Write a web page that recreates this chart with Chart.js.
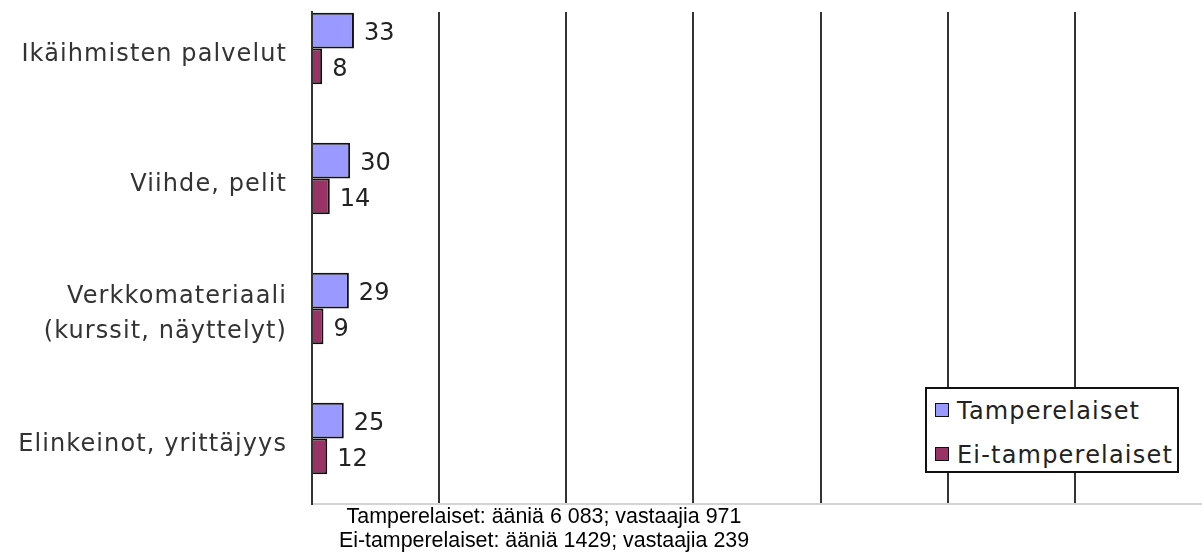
<!DOCTYPE html>
<html>
<head>
<meta charset="utf-8">
<script src="https://cdn.jsdelivr.net/npm/chart.js@4/dist/chart.umd.min.js"></script>
<style>
  html, body { margin: 0; padding: 0; background: #fff; }
  #wrap { position: relative; width: 1202px; height: 560px; }
  #legend {
    position: absolute; left: 925px; top: 387px; width: 250px; height: 82px;
    border: 2px solid #111; background: #fff;
    font-family: 'DejaVu Sans', sans-serif; font-size: 24px; color: #222; letter-spacing: 1.2px;
  }
  #legend .row { height: 44px; line-height: 44px; white-space: nowrap; padding-left: 8px; }
  #legend .box { display: inline-block; width: 12px; height: 12px; border: 1px solid #111;
    vertical-align: middle; margin-right: 8px; position: relative; top: -2px; }
  #footer {
    position: absolute; left: 0; top: 504px; width: 1088px; text-align: center;
    font-family: 'Liberation Sans', Arial, sans-serif; font-size: 21.4px; line-height: 24px; color: #000;
  }
</style>
</head>
<body>
<div id="wrap">
  <canvas id="chart"></canvas>
  <div id="legend"></div>
  <div id="footer">Tamperelaiset: ääniä 6 083; vastaajia 971<br>Ei-tamperelaiset: ääniä 1429; vastaajia 239</div>
</div>
<script>
const categories = [
    'Ikäihmisten palvelut',
    'Viihde, pelit',
    ['Verkkomateriaali', '(kurssit, näyttelyt)'],
    'Elinkeinot, yrittäjyys'
];
const seriesNames = ['Tamperelaiset', 'Ei-tamperelaiset'];
const tampere = [33, 30, 29, 25];
const muut = [8, 14, 9, 12];
const seriesColors = ['#9999ff', '#993366'];

const toPoints = arr => arr.map((v, i) => ({ x: v, y: i }));

// a little extra letter spacing, like the original's Verdana
const spacing = {
    id: 'spacing',
    beforeUpdate(chart) { chart.ctx.letterSpacing = '1.1px'; },
    beforeDraw(chart) { chart.ctx.letterSpacing = '1.1px'; }
};

// value labels at the end of each bar
const valueLabels = {
    id: 'valueLabels',
    afterDatasetsDraw(chart) {
        const ctx = chart.ctx;
        ctx.save();
        ctx.letterSpacing = '0px';
        ctx.font = '24px "DejaVu Sans"';
        ctx.fillStyle = '#222';
        ctx.textBaseline = 'middle';
        chart.data.datasets.forEach((ds, i) => {
            chart.getDatasetMeta(i).data.forEach((bar, j) => {
                ctx.fillText(ds.data[j].x, bar.x + 10, bar.y + 3);
            });
        });
        ctx.restore();
    }
};

const ctx = document.getElementById('chart').getContext('2d');
const chart = new Chart(ctx, {
    type: 'bar',
    data: {
        datasets: [
            { label: seriesNames[0], data: toPoints(tampere), backgroundColor: seriesColors[0],
              borderColor: '#111', borderWidth: 2 },
            { label: seriesNames[1], data: toPoints(muut), backgroundColor: seriesColors[1],
              borderColor: '#111', borderWidth: 2 }
        ]
    },
    options: {
        indexAxis: 'y',
        responsive: true,
        maintainAspectRatio: false,
        animation: false,
        categoryPercentage: 0.55,
        barPercentage: 1,
        layout: { padding: { top: 12, bottom: 56, left: 0, right: 0 } },
        plugins: {
            legend: { display: false },
            tooltip: { enabled: false }
        },
        scales: {
            x: {
                min: 0, max: 700,
                ticks: { display: false, stepSize: 100 },
                grid: {
                    drawTicks: false,
                    lineWidth: 2,
                    color: c => (c.tick && c.tick.value === 700) ? 'rgba(0,0,0,0)' : '#333'
                },
                border: { color: '#d4d4d4', width: 2 },
                afterFit: s => { s.height = 0; s.paddingLeft = 0; s.paddingRight = 0; }
            },
            y: {
                type: 'linear',
                reverse: true,
                offset: false,
                min: -0.281, max: 3.504,
                afterBuildTicks: s => { s.ticks = categories.map((_, i) => ({ value: i })); },
                ticks: {
                    callback: v => categories[v],
                    padding: 25,
                    labelOffset: 6,
                    color: '#333',
                    font: { family: 'DejaVu Sans', size: 24, lineHeight: 1.45 }
                },
                grid: { display: false, drawTicks: false, offset: false },
                border: { color: '#333', width: 2 },
                afterFit: s => { s.width = 312; s.paddingTop = 0; s.paddingBottom = 0; }
            }
        }
    },
    plugins: [spacing, valueLabels]
});

// legend box drawn from the datasets
const legendDiv = document.getElementById('legend');
chart.data.datasets.forEach(ds => {
    const row = document.createElement('div');
    row.className = 'row';
    row.innerHTML = `<span class="box" style="background:${ds.backgroundColor}"></span>${ds.label}`;
    legendDiv.appendChild(row);
});
</script>
</body>
</html>
